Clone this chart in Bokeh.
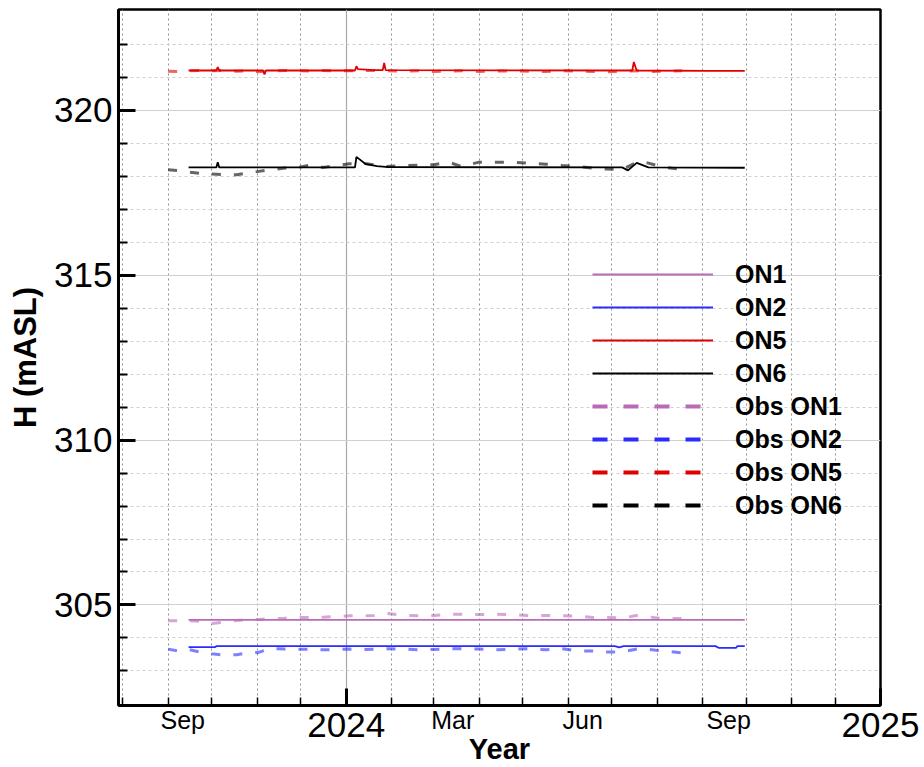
import pandas as pd
from bokeh.plotting import figure
from bokeh.models import Range1d, FixedTicker, Legend, LegendItem, LinearAxis
from bokeh.embed import file_html
from bokeh.resources import INLINE


def ms(dates):
    return [int(pd.Timestamp(d).value // 10**6) for d in dates]


# ---------------- data ----------------
obs_dates = ["2023-09-01", "2023-09-08", "2023-09-15", "2023-09-23", "2023-10-01", "2023-10-09",
             "2023-10-18", "2023-10-26", "2023-11-02", "2023-11-10", "2023-11-20", "2023-11-29",
             "2023-12-08", "2023-12-16", "2023-12-26", "2024-01-03", "2024-01-12", "2024-01-20",
             "2024-01-28", "2024-02-09", "2024-02-20", "2024-03-01", "2024-03-11", "2024-03-20",
             "2024-04-01", "2024-04-12", "2024-04-24", "2024-05-05", "2024-05-17", "2024-05-28",
             "2024-06-08", "2024-06-18", "2024-06-28", "2024-07-08", "2024-07-19", "2024-07-26",
             "2024-08-05", "2024-08-18"]

obs_on1 = [304.52, 304.52, 304.52, 304.50, 304.44, 304.48, 304.53, 304.55, 304.56, 304.58,
           304.60, 304.62, 304.62, 304.63, 304.65, 304.67, 304.67, 304.68, 304.75, 304.68,
           304.67, 304.68, 304.72, 304.72, 304.71, 304.72, 304.70, 304.68, 304.68, 304.67,
           304.66, 304.62, 304.62, 304.60, 304.69, 304.64, 304.58, 304.59]

obs_on2 = [303.66, 303.60, 303.65, 303.57, 303.52, 303.48, 303.49, 303.55, 303.56, 303.68,
           303.66, 303.66, 303.65, 303.64, 303.65, 303.66, 303.65, 303.66, 303.67, 303.66,
           303.64, 303.65, 303.67, 303.67, 303.66, 303.64, 303.66, 303.67, 303.64, 303.67,
           303.60, 303.60, 303.57, 303.58, 303.67, 303.65, 303.60, 303.55]

obs_on5 = [321.19, 321.18, 321.20, 321.21, 321.20, 321.21, 321.19, 321.20, 321.17, 321.20,
           321.21, 321.20, 321.19, 321.21, 321.20, 321.20, 321.21, 321.21, 321.20, 321.19,
           321.20, 321.18, 321.19, 321.20, 321.18, 321.19, 321.20, 321.19, 321.18, 321.20,
           321.19, 321.18, 321.17, 321.19, 321.20, 321.18, 321.19, 321.20]

obs_on6 = [318.20, 318.17, 318.13, 318.09, 318.07, 318.05, 318.05, 318.10, 318.15, 318.20,
           318.25, 318.27, 318.35, 318.27, 318.33, 318.38, 318.40, 318.35, 318.30, 318.32,
           318.34, 318.35, 318.43, 318.30, 318.43, 318.43, 318.43, 318.40, 318.37, 318.33,
           318.30, 318.25, 318.22, 318.20, 318.45, 318.40, 318.28, 318.21]

on1_dates = ["2023-09-15", "2024-01-08", "2024-05-02", "2024-09-30"]
on1_vals = [304.55, 304.55, 304.55, 304.55]

on2_dates = ["2023-09-15", "2023-10-03", "2023-10-04", "2024-07-03", "2024-07-06", "2024-07-09",
             "2024-09-10", "2024-09-12", "2024-09-24", "2024-09-25", "2024-09-30"]
on2_vals = [303.72, 303.72, 303.75, 303.75, 303.71, 303.75, 303.75, 303.70, 303.70, 303.75, 303.75]

on5_dates = ["2023-09-15", "2023-10-04", "2023-10-05", "2023-10-06", "2023-11-05", "2023-11-06",
             "2023-11-07", "2024-01-07", "2024-01-08", "2024-01-09", "2024-01-20", "2024-01-26",
             "2024-01-27", "2024-01-28", "2024-07-15", "2024-07-16", "2024-07-18", "2024-09-06",
             "2024-09-30"]
on5_vals = [321.21, 321.21, 321.31, 321.21, 321.21, 321.09, 321.21, 321.21, 321.34, 321.25,
            321.22, 321.22, 321.44, 321.22, 321.21, 321.47, 321.21, 321.20, 321.20]

on6_dates = ["2023-09-15", "2023-10-04", "2023-10-05", "2023-10-06", "2024-01-07", "2024-01-08",
             "2024-01-14", "2024-01-22", "2024-01-30", "2024-07-08", "2024-07-12", "2024-07-18",
             "2024-07-26", "2024-09-30"]
on6_vals = [318.27, 318.27, 318.43, 318.27, 318.27, 318.59, 318.38, 318.31, 318.28, 318.27,
            318.18, 318.41, 318.27, 318.26]

year_ticks = ["2024-01-01", "2025-01-01"]
year_labels = ["2024", "2025"]
month_ticks = ["2023-08-01", "2023-09-01", "2023-10-01", "2023-11-01", "2023-12-01",
               "2024-02-01", "2024-03-01", "2024-04-01", "2024-05-01", "2024-06-01",
               "2024-07-01", "2024-08-01", "2024-09-01", "2024-10-01", "2024-11-01", "2024-12-01"]
month_label_dates = ["2023-09-11", "2024-03-14", "2024-06-11", "2024-09-19"]
month_labels = ["Sep", "Mar", "Jun", "Sep"]
y_major = [305, 310, 315, 320]
y_minor = [303, 304, 306, 307, 308, 309, 311, 312, 313, 314, 316, 317, 318, 319, 321, 322]

series_names = ["ON1", "ON2", "ON5", "ON6"]
colors = ["#b86cb8", "#2b2bff", "#e00000", "#000000"]

FONT = "Liberation Sans"

# ---------------- figure ----------------
x0, x1 = ms(["2023-07-29", "2025-01-01"])
y0, y1 = 301.95, 323.06
p = figure(width=924, height=767, output_backend="svg", toolbar_location=None,
           x_range=Range1d(x0, x1), y_range=Range1d(y0, y1),
           min_border_left=118, min_border_right=44, min_border_top=9, min_border_bottom=62)
p.background_fill_color = "white"
p.border_fill_color = "white"
p.outline_line_color = "black"
p.outline_line_width = 2.5

yt_ms = ms(year_ticks)
xt = FixedTicker(ticks=yt_ms, minor_ticks=ms(month_ticks))
yt = FixedTicker(ticks=y_major, minor_ticks=y_minor)

# year axis (adjacent to the frame)
xax = p.xaxis[0]
xax.ticker = xt
xax.major_label_overrides = {t: l for t, l in zip(yt_ms, year_labels)}
xax.axis_label = None
xax.major_tick_in = 17
xax.major_tick_out = 0
xax.major_tick_line_width = 3
xax.minor_tick_in = 8
xax.minor_tick_out = 0
xax.minor_tick_line_width = 1.5
xax.axis_line_width = 3
xax.major_label_text_font = FONT
xax.major_label_text_font_size = "35px"
xax.major_label_text_color = "black"
xax.major_label_standoff = 7

# month-name axis, its labels pulled up onto the same row as the years
ml_ms = ms(month_label_dates)
max_ = LinearAxis(ticker=FixedTicker(ticks=ml_ms, minor_ticks=[]),
                  major_label_overrides={t: l for t, l in zip(ml_ms, month_labels)},
                  axis_line_color=None, major_tick_line_color=None, minor_tick_line_color=None,
                  major_label_standoff=-40,
                  major_label_text_font=FONT, major_label_text_font_size="25px",
                  major_label_text_color="black",
                  axis_label="Year", axis_label_standoff=-4,
                  axis_label_text_font=FONT, axis_label_text_font_size="29px",
                  axis_label_text_font_style="bold", axis_label_text_color="black")
p.add_layout(max_, "below")

yax = p.yaxis[0]
yax.ticker = yt
yax.major_tick_in = 17
yax.major_tick_out = 0
yax.major_tick_line_width = 3
yax.minor_tick_in = 9
yax.minor_tick_out = 0
yax.minor_tick_line_width = 2
yax.axis_line_width = 3
yax.major_label_text_font = FONT
yax.major_label_text_font_size = "35px"
yax.major_label_text_color = "black"
yax.major_label_standoff = 6
yax.axis_label = "H (mASL)"
yax.axis_label_text_font = FONT
yax.axis_label_text_font_style = "bold"
yax.axis_label_text_font_size = "31px"
yax.axis_label_text_color = "black"
yax.axis_label_standoff = 8

xg = p.xgrid[0]
xg.ticker = xt
xg.grid_line_color = "#a8a8a8"
xg.grid_line_width = 1.2
xg.minor_grid_line_color = "#909090"
xg.minor_grid_line_dash = "2 3"
xg.minor_grid_line_width = 1

yg = p.ygrid[0]
yg.ticker = yt
yg.grid_line_color = "#d0d0d0"
yg.grid_line_width = 1.2
yg.minor_grid_line_color = "#cfcfcf"
yg.minor_grid_line_dash = "3 3"
yg.minor_grid_line_width = 1

# ---------------- data lines ----------------
ox = ms(obs_dates)
obs_all = [obs_on1, obs_on2, obs_on5, obs_on6]
for vals, c in zip(obs_all, colors):
    p.line(ox, vals, line_color=c, line_width=3, line_dash="9 13", line_alpha=0.6)

model_renderers = []
for d, vals, c in zip([on1_dates, on2_dates, on5_dates, on6_dates],
                      [on1_vals, on2_vals, on5_vals, on6_vals], colors):
    r = p.line(ms(d), vals, line_color=c, line_width=1.8)
    model_renderers.append(r)

# legend-only copies of the observation series (hidden in the plot area)
obs_legend_renderers = []
for vals, c in zip(obs_all, colors):
    r = p.line(ox, vals, line_color=c, line_width=4, line_dash="15 16", visible=False)
    obs_legend_renderers.append(r)

items = [LegendItem(label=n, renderers=[r]) for n, r in zip(series_names, model_renderers)]
items += [LegendItem(label="Obs " + n, renderers=[r]) for n, r in zip(series_names, obs_legend_renderers)]

legend = Legend(items=items, location=(474, 185), orientation="vertical",
                glyph_width=121, glyph_height=30, label_height=30, spacing=3,
                padding=0, margin=0, label_standoff=22,
                label_text_font=FONT, label_text_font_size="25px",
                label_text_font_style="bold", label_text_color="black",
                border_line_alpha=0, background_fill_alpha=0,
                inactive_fill_alpha=0)
p.add_layout(legend)

open("out.html", "w").write(file_html(p, INLINE))
